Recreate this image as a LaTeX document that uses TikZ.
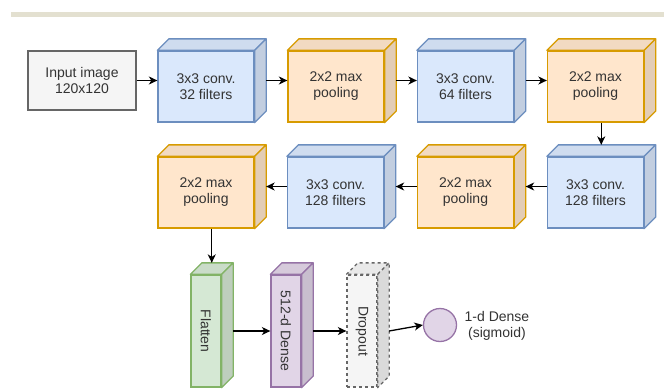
\documentclass[tikz,border=0pt]{standalone}
\usepackage{fontspec}
\setmainfont{Liberation Sans}
\usetikzlibrary{arrows.meta}
\definecolor{bluef}{HTML}{DAE8FC}\definecolor{blues}{HTML}{6C8EBF}
\definecolor{orf}{HTML}{FFE6CC}\definecolor{ors}{HTML}{D79B00}
\definecolor{grf}{HTML}{D5E8D4}\definecolor{grs}{HTML}{82B366}
\definecolor{puf}{HTML}{E1D5E7}\definecolor{pus}{HTML}{9673A6}
\definecolor{gyf}{HTML}{F5F5F5}\definecolor{gys}{HTML}{666666}
\definecolor{txt}{HTML}{333333}
\definecolor{barc}{HTML}{E3E0D0}
\newcommand\cubefaces[4]{%
  \filldraw[fill=#2!95!black,draw=#3,line width=1.3pt,line join=round,#4]
    (#1.north west) -- ([shift={(11.5,-11.5)}]#1.north west) -- ([shift={(11.5,-11.5)}]#1.north east) -- (#1.north east) -- cycle;
  \filldraw[fill=#2!89!black,draw=#3,line width=1.3pt,line join=round,#4]
    (#1.north east) -- ([shift={(11.5,-11.5)}]#1.north east) -- ([shift={(11.5,-11.5)}]#1.south east) -- (#1.south east) -- cycle;
}
\tikzset{
  face/.style={rectangle,inner sep=0pt,line width=1.3pt,text=txt,align=center,
    font=\fontsize{14}{16}\selectfont},
  hbox/.style={face,minimum width=96pt,minimum height=71pt},
  vbox/.style={face,minimum width=30pt,minimum height=112pt},
  convc/.style={hbox,fill=bluef,draw=blues},
  poolc/.style={hbox,fill=orf,draw=ors},
  arr/.style={line width=1.3pt,-{Stealth[length=8.5pt,width=8pt,inset=2.5pt]}},
}
\begin{document}
\begin{tikzpicture}[x=1pt,y=-1pt]
\useasboundingbox (0,0) rectangle (664,389);
\fill[barc] (11,12) rectangle (664,16.5);
% row 1
\node[face,minimum width=108pt,minimum height=59pt,fill=gyf,draw=gys] (input) at (82,80.5) {Input image\\120x120};
\node[convc] (conv1) at (206,86.5) {3x3 conv.\\32 filters};
\cubefaces{conv1}{bluef}{blues}{}
\node[poolc] (pool1) at (336,86.5) {2x2 max\\pooling};
\cubefaces{pool1}{orf}{ors}{}
\node[convc] (conv2) at (465.5,86.5) {3x3 conv.\\64 filters};
\cubefaces{conv2}{bluef}{blues}{}
\node[poolc] (pool2) at (595.5,86.5) {2x2 max\\pooling};
\cubefaces{pool2}{orf}{ors}{}
% row 2
\node[convc] (conv3) at (595.5,192.5) {3x3 conv.\\128 filters};
\cubefaces{conv3}{bluef}{blues}{}
\node[poolc] (pool3) at (465.5,192.5) {2x2 max\\pooling};
\cubefaces{pool3}{orf}{ors}{}
\node[convc] (conv4) at (335.5,192.5) {3x3 conv.\\128 filters};
\cubefaces{conv4}{bluef}{blues}{}
\node[poolc] (pool4) at (206,192.5) {2x2 max\\pooling};
\cubefaces{pool4}{orf}{ors}{}
% row 3
\node[vbox,fill=grf,draw=grs] (flat) at (206,331) {};
\cubefaces{flat}{grf}{grs}{}
\node[face,rotate=-90] at (flat.center) {Flatten};
\node[vbox,fill=puf,draw=pus] (dense) at (286,331) {};
\cubefaces{dense}{puf}{pus}{}
\node[face,rotate=-90] at (dense.center) {512-d Dense};
\node[vbox,fill=gyf,draw=gys,dashed] (drop) at (362,331) {};
\cubefaces{drop}{gyf}{gys}{dashed}
\node[face,rotate=-90] at (drop.center) {Dropout};
\node[circle,minimum size=33pt,inner sep=0pt,fill=puf,draw=pus,line width=1.3pt] (out) at (440,325) {};
\node[face,anchor=west] (outl) at (464,326) {1-d Dense\\(sigmoid)};
% arrows
\draw[arr] (input.east) -- ([yshift=6pt]conv1.west);
\draw[arr] ([shift={(11.5,-6)}]conv1.east) -- ([yshift=6pt]pool1.west);
\draw[arr] ([shift={(11.5,-6)}]pool1.east) -- ([yshift=6pt]conv2.west);
\draw[arr] ([shift={(11.5,-6)}]conv2.east) -- ([yshift=6pt]pool2.west);
\draw[arr] ([xshift=5.75pt]pool2.south) -- ([shift={(5.75,-11.5)}]conv3.north);
\draw[arr] ([yshift=6pt]conv3.west) -- ([shift={(11.5,-6)}]pool3.east);
\draw[arr] ([yshift=6pt]pool3.west) -- ([shift={(11.5,-6)}]conv4.east);
\draw[arr] ([yshift=6pt]conv4.west) -- ([shift={(11.5,-6)}]pool4.east);
\draw[arr] ([xshift=5.75pt]pool4.south) -- ([shift={(5.75,-11.5)}]flat.north);
\draw[arr] ([shift={(11.5,0)}]flat.east) -- (dense.west);
\draw[arr] ([shift={(11.5,0)}]dense.east) -- (drop.west);
\draw[arr] ([shift={(11.5,0)}]drop.east) -- (out.west);
\end{tikzpicture}
\end{document}
